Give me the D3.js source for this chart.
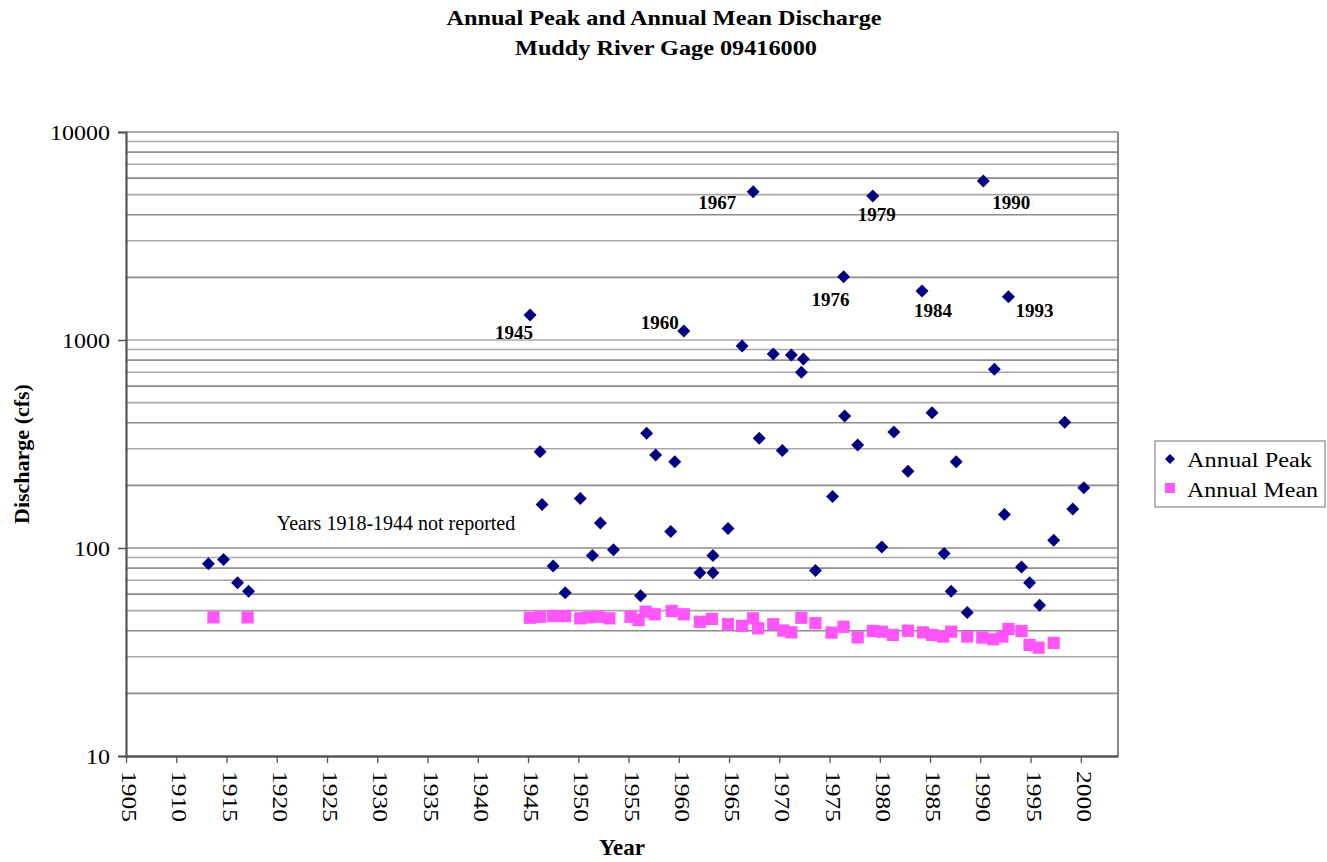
<!DOCTYPE html>
<html>
<head>
<meta charset="utf-8">
<script src="https://cdn.jsdelivr.net/npm/d3@7"></script>
<style>
  html, body { margin: 0; padding: 0; background: #fff; }
  svg { display: block; }
  text { font-family: "Liberation Serif", "Times New Roman", serif; fill: #000; }
</style>
</head>
<body>
<svg id="chart" width="1327" height="862"></svg>
<script>
// ---------------- DATA ----------------
const titleLines = ["Annual Peak and Annual Mean Discharge", "Muddy River Gage 09416000"];
const xAxisTitle = "Year";
const yAxisTitle = "Discharge (cfs)";
const seriesNames = ["Annual Peak", "Annual Mean"];

const xTickLabels = [1905, 1910, 1915, 1920, 1925, 1930, 1935, 1940, 1945, 1950,
                     1955, 1960, 1965, 1970, 1975, 1980, 1985, 1990, 1995, 2000];
const yTickLabels = [10, 100, 1000, 10000];
const yGridValues = [20, 30, 40, 50, 60, 70, 80, 90,
                     200, 300, 400, 500, 600, 700, 800, 900,
                     2000, 3000, 4000, 5000, 6000, 7000, 8000, 9000, 10000];

const peakYears = [1913.2, 1914.7, 1916.1, 1917.2,
  1945.2, 1946.2, 1946.4, 1947.5, 1948.7, 1950.2, 1951.4, 1952.2, 1953.5,
  1956.2, 1956.8, 1957.7, 1959.2, 1959.6, 1960.5, 1962.1, 1963.4, 1963.4, 1964.9,
  1966.3, 1967.4, 1968.0, 1969.4, 1970.3, 1971.2, 1972.2, 1972.4, 1973.6,
  1975.3, 1976.4, 1976.5, 1977.8, 1979.3, 1980.2, 1981.4, 1982.8, 1984.2,
  1985.2, 1986.4, 1987.1, 1987.6, 1988.7, 1990.3, 1991.4, 1992.4, 1992.8,
  1994.1, 1994.9, 1995.9, 1997.3, 1998.4, 1999.2, 2000.3];
const peakValues = [84, 88, 68, 62,
  1320, 290, 162, 82, 61, 173, 92, 132, 98,
  59, 356, 280, 120, 260, 1105, 76, 76, 92, 124,
  936, 5160, 337, 857, 294, 847, 700, 811, 78,
  177, 2015, 431, 313, 4920, 101, 361, 234, 1720,
  447, 94, 62, 260, 49, 5810, 723, 145, 1615,
  81, 68, 53, 109, 402, 154, 195];

const meanYears = [1913.7, 1917.1,
  1945.2, 1946.2, 1947.5, 1948.7, 1950.2, 1951.0, 1952.0, 1953.1, 1955.2, 1956.0,
  1956.7, 1957.6, 1959.3, 1960.5, 1962.1, 1963.3, 1964.9, 1966.3, 1967.4, 1967.9,
  1969.4, 1970.4, 1971.2, 1972.2, 1973.6, 1975.2, 1976.4, 1977.8, 1979.3, 1980.2,
  1981.3, 1982.8, 1984.3, 1985.2, 1986.3, 1987.1, 1988.7, 1990.2, 1991.3, 1992.2,
  1992.8, 1994.1, 1994.9, 1995.8, 1997.3];
const meanValues = [46.4, 46.4,
  46.2, 46.7, 47.1, 47.1, 45.9, 46.4, 46.7, 45.9, 46.7, 45.1,
  49.4, 48.0, 49.8, 48.0, 44.2, 45.6, 43.0, 42.2, 45.9, 41.1,
  43.0, 40.1, 39.3, 46.2, 43.5, 39.2, 41.8, 37.2, 39.9, 39.6,
  38.2, 40.0, 39.3, 38.2, 37.5, 39.6, 37.5, 37.1, 36.4, 37.5,
  40.8, 39.9, 34.2, 33.2, 35.0];

// annotated peaks (label text and the peak they mark)
const peakLabelTexts = ["1945", "1960", "1967", "1976", "1979", "1984", "1990", "1993"];
const peakLabelYears = [1945.2, 1960.5, 1967.4, 1976.4, 1979.3, 1984.2, 1990.3, 1992.8];
const peakLabelValues = [1320, 1105, 5160, 2015, 4920, 1720, 5810, 1615];

const noteText = "Years 1918-1944 not reported";
const noteYear = 1920.0;
const noteValue = 122;

// ---------------- STYLE / LAYOUT ----------------
const W = 1327, H = 862;
const plot = { left: 126, top: 132, right: 1118, bottom: 756 };
const xDomain = [1905, 2003.7];
const yDomain = [10, 10000];
const peakColor = "#000080";
const meanColor = "#ff55fa";
const labelOffsets = [[-16, 24], [-24, -2], [-36, 17], [-13, 29], [4, 25], [11, 26], [28, 28], [26, 20]];

const svg = d3.select("#chart");

const x = d3.scaleLinear().domain(xDomain).range([plot.left, plot.right]);
const y = d3.scaleLog().domain(yDomain).range([plot.bottom, plot.top]);

// gridlines
svg.append("g").selectAll("line").data(yGridValues).join("line")
  .attr("x1", plot.left).attr("x2", plot.right)
  .attr("y1", d => y(d)).attr("y2", d => y(d))
  .attr("stroke", (d, i) => (i % 2 ? "#a8a8a8" : "#8c8c8c"))
  .attr("stroke-width", 1.6);
svg.append("line")
  .attr("x1", plot.left).attr("x2", plot.right)
  .attr("y1", y(100)).attr("y2", y(100))
  .attr("stroke", "#8c8c8c").attr("stroke-width", 1.6);
svg.append("line")
  .attr("x1", plot.left).attr("x2", plot.right)
  .attr("y1", y(1000)).attr("y2", y(1000))
  .attr("stroke", "#a8a8a8").attr("stroke-width", 1.6);

// right border
svg.append("line")
  .attr("x1", plot.right).attr("x2", plot.right)
  .attr("y1", plot.top).attr("y2", plot.bottom)
  .attr("stroke", "#8a8a8a").attr("stroke-width", 2);

// Y axis
const yAxis = d3.axisLeft(y).tickValues(yTickLabels).tickFormat(d3.format("d")).tickSize(8).tickPadding(8);
const gy = svg.append("g").attr("transform", `translate(${plot.left},0)`).call(yAxis);
gy.select(".domain").attr("stroke", "#555").attr("stroke-width", 2.2);
gy.selectAll(".tick line").attr("stroke", "#555").attr("stroke-width", 1.5);
gy.selectAll(".tick text").attr("font-size", 22)
  .attr("font-family", "'Liberation Serif', 'Times New Roman', serif").attr("fill", "#000")
  .attr("textLength", d => String(d).length * 12).attr("lengthAdjust", "spacingAndGlyphs");

// X axis
const xAxis = d3.axisBottom(x).tickValues(xTickLabels).tickFormat(d3.format("d")).tickSize(7).tickSizeOuter(0);
const gx = svg.append("g").attr("transform", `translate(0,${plot.bottom})`).call(xAxis);
gx.select(".domain").attr("stroke", "#555").attr("stroke-width", 2.6);
gx.selectAll(".tick line").attr("stroke", "#555").attr("stroke-width", 1.3);
gx.selectAll(".tick text")
  .attr("font-size", 22)
  .attr("font-family", "'Liberation Serif', 'Times New Roman', serif")
  .attr("fill", "#000")
  .attr("text-anchor", "start")
  .attr("y", 0).attr("x", 0)
  .attr("dy", "0.2em")
  .attr("textLength", 51).attr("lengthAdjust", "spacingAndGlyphs")
  .attr("transform", "translate(0,15) rotate(90)");

// series: means (squares)
const squarePath = d3.symbol().type(d3.symbolSquare).size(150)();
svg.append("g").selectAll("path").data(meanYears.map((yr, i) => [yr, meanValues[i]])).join("path")
  .attr("d", squarePath)
  .attr("transform", d => `translate(${x(d[0])},${y(d[1])})`)
  .attr("fill", meanColor);

// series: peaks (diamonds)
const diamondPath = d3.symbol().type(d3.symbolSquare).size(84)();
svg.append("g").selectAll("path").data(peakYears.map((yr, i) => [yr, peakValues[i]])).join("path")
  .attr("d", diamondPath)
  .attr("transform", d => `translate(${x(d[0])},${y(d[1])}) rotate(45)`)
  .attr("fill", peakColor);

// peak year labels
svg.append("g").selectAll("text").data(peakLabelTexts).join("text")
  .attr("x", (d, i) => x(peakLabelYears[i]) + labelOffsets[i][0])
  .attr("y", (d, i) => y(peakLabelValues[i]) + labelOffsets[i][1])
  .attr("text-anchor", "middle")
  .attr("font-size", 19).attr("font-weight", "bold")
  .text(d => d);

// note
svg.append("text")
  .attr("x", x(noteYear)).attr("y", y(noteValue))
  .attr("font-size", 20)
  .text(noteText);

// titles
svg.append("text").attr("x", 664).attr("y", 25).attr("text-anchor", "middle")
  .attr("font-size", 22).attr("font-weight", "bold")
  .attr("textLength", 435).attr("lengthAdjust", "spacingAndGlyphs")
  .text(titleLines[0]);
svg.append("text").attr("x", 666).attr("y", 55).attr("text-anchor", "middle")
  .attr("font-size", 22).attr("font-weight", "bold")
  .attr("textLength", 302).attr("lengthAdjust", "spacingAndGlyphs")
  .text(titleLines[1]);

svg.append("text").attr("x", (plot.left + plot.right) / 2).attr("y", 855).attr("text-anchor", "middle")
  .attr("font-size", 23).attr("font-weight", "bold")
  .text(xAxisTitle);

svg.append("text")
  .attr("transform", `translate(29,${(plot.top + plot.bottom) / 2 + 10}) rotate(-90)`)
  .attr("text-anchor", "middle")
  .attr("font-size", 22).attr("font-weight", "bold")
  .text(yAxisTitle);

// legend
const lg = svg.append("g").attr("transform", "translate(1155,441)");
lg.append("rect").attr("width", 170).attr("height", 66)
  .attr("fill", "#fff").attr("stroke", "#888").attr("stroke-width", 1.2);
lg.append("path").attr("d", d3.symbol().type(d3.symbolSquare).size(50)())
  .attr("transform", "translate(15,18) rotate(45)").attr("fill", peakColor);
lg.append("path").attr("d", d3.symbol().type(d3.symbolSquare).size(100)())
  .attr("transform", "translate(15,47)").attr("fill", meanColor);
lg.append("text").attr("x", 32).attr("y", 26).attr("font-size", 20)
  .attr("textLength", 125).attr("lengthAdjust", "spacingAndGlyphs").text(seriesNames[0]);
lg.append("text").attr("x", 32).attr("y", 56).attr("font-size", 20)
  .attr("textLength", 131).attr("lengthAdjust", "spacingAndGlyphs").text(seriesNames[1]);
</script>
</body>
</html>
